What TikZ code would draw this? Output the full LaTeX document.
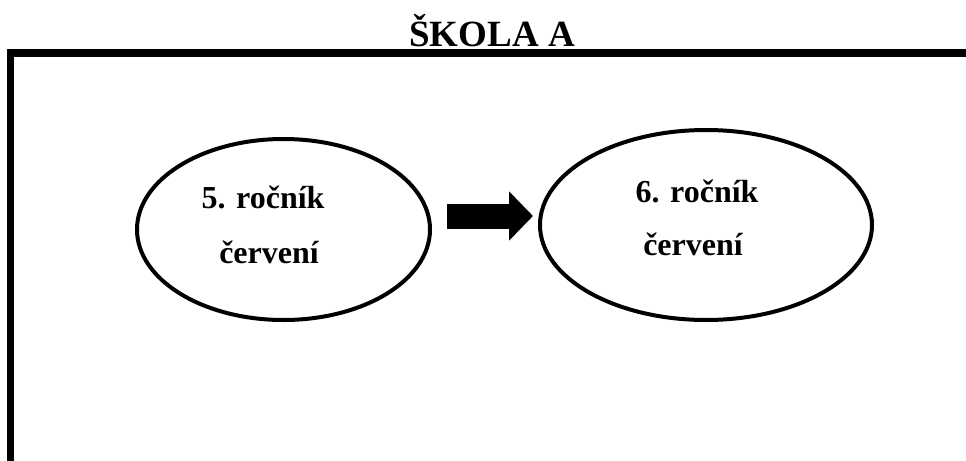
\documentclass[tikz,border=0pt]{standalone}
\usepackage{fontspec}
\setmainfont{Liberation Serif}[BoldFont={Liberation Serif Bold}]
\usetikzlibrary{shapes.geometric,arrows.meta}
\tikzset{
  rocnik/.style={draw, ellipse, line width=2pt, inner sep=0pt},
  popis/.style={font=\rmfamily\bfseries\fontsize{16}{19}\selectfont, anchor=base, inner sep=0pt},
  blokova/.style={line width=12.5pt, -{Triangle[length=12pt,width=24pt]}}
}
\begin{document}
\begin{tikzpicture}[x=0.5pt,y=-0.5pt]
        \useasboundingbox (0,0) rectangle (966,461);
        \node[anchor=base, inner sep=0pt, font=\rmfamily\bfseries\fontsize{18.5}{22}\selectfont] (nadpis) at (492,46) {ŠKOLA A};
        \draw[line width=3.75pt, line join=miter] (10.5,470) -- (10.5,53) -- (980,53);
        \node[rocnik, minimum width=146.5pt, minimum height=90.5pt] (r5) at (283.5,229.5) {};
        \node[popis] (r5a) at (263,208) {5. ročník};
        \node[popis] (r5b) at (269,263) {červení};
        \node[rocnik, minimum width=166pt, minimum height=95pt] (r6) at (706,225) {};
        \node[popis] (r6a) at (697,202) {6. ročník};
        \node[popis] (r6b) at (693,255) {červení};
        \coordinate (s1) at (447,216);
        \coordinate (s2) at (533,216);
        \draw[blokova] (s1) -- (s2);
    \end{tikzpicture}
\end{document}
